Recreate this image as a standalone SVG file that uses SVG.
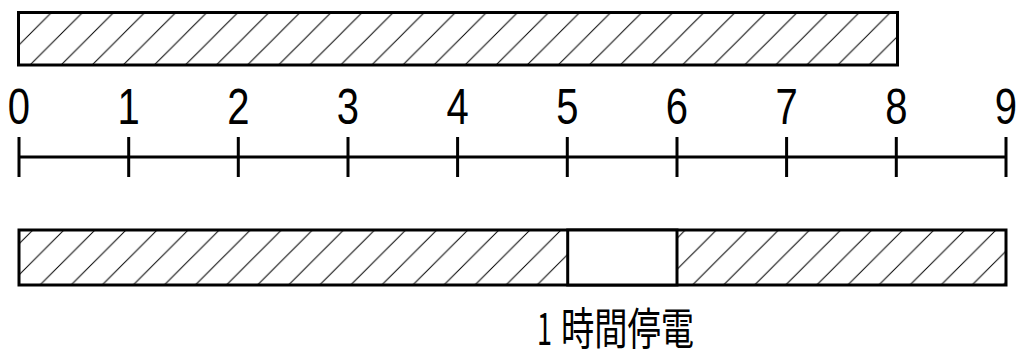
<svg xmlns="http://www.w3.org/2000/svg" width="1016" height="353" viewBox="0 0 1016 353">
<style>
.box{fill:url(#hatchA);stroke:#000;stroke-width:3}
.box2{fill:url(#hatchB);stroke:#000;stroke-width:3}
.ln{stroke:#000;stroke-width:3;fill:none}
.num{font-family:"Liberation Sans",Arial,sans-serif;font-size:50px;fill:#000;text-anchor:middle}
.cap{font-family:"Noto Sans CJK JP","Liberation Sans",sans-serif;font-size:44px;font-weight:400;fill:#000}
</style>
<defs>
<pattern id="hatchA" patternUnits="userSpaceOnUse" x="1.8" y="0" width="31.07" height="31.07">
<path d="M-1,1 L1,-1 M0,31.07 L31.07,0 M30.07,32.07 L32.07,30.07" stroke="#000" stroke-width="1"/>
</pattern>
<pattern id="hatchB" patternUnits="userSpaceOnUse" x="14.3" y="0" width="31.07" height="31.07">
<path d="M-1,1 L1,-1 M0,31.07 L31.07,0 M30.07,32.07 L32.07,30.07" stroke="#000" stroke-width="1"/>
</pattern>
</defs>
<g id="bar-top">
<rect class="box" x="18.5" y="12.5" width="879" height="52.5"/>
</g>
<g id="labels">
<text class="num" transform="translate(19,123.5) scale(0.8,1)">0</text>
<text class="num" transform="translate(128.7,123.5) scale(0.8,1)">1</text>
<text class="num" transform="translate(238.3,123.5) scale(0.8,1)">2</text>
<text class="num" transform="translate(348,123.5) scale(0.8,1)">3</text>
<text class="num" transform="translate(457.6,123.5) scale(0.8,1)">4</text>
<text class="num" transform="translate(567.3,123.5) scale(0.8,1)">5</text>
<text class="num" transform="translate(677,123.5) scale(0.8,1)">6</text>
<text class="num" transform="translate(786.6,123.5) scale(0.8,1)">7</text>
<text class="num" transform="translate(896.3,123.5) scale(0.8,1)">8</text>
<text class="num" transform="translate(1006,123.5) scale(0.8,1)">9</text>
</g>
<g id="axis">
<line class="ln" x1="19" y1="157" x2="1006" y2="157"/>
<path class="ln" d="M19,137V177 M128.7,137V177 M238.3,137V177 M348,137V177 M457.6,137V177 M567.3,137V177 M677,137V177 M786.6,137V177 M896.3,137V177 M1006,137V177"/>
</g>
<g id="bar-bottom">
<rect class="box2" x="19" y="230" width="987" height="55"/>
<rect x="567.7" y="230" width="109.3" height="55" fill="#fff" stroke="#000" stroke-width="3"/>
</g>
<g id="caption">
<text class="cap" y="345"><tspan x="537" textLength="15" lengthAdjust="spacingAndGlyphs">1</tspan><tspan x="561" textLength="133" lengthAdjust="spacingAndGlyphs">時間停電</tspan></text>
</g>
</svg>
